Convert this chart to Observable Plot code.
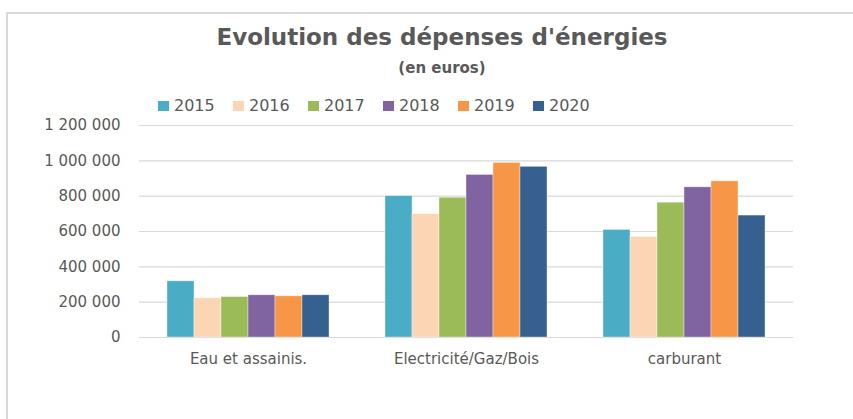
<!DOCTYPE html>
<html>
<head>
<meta charset="utf-8">
<script src="https://cdn.jsdelivr.net/npm/d3@7"></script>
<script src="https://cdn.jsdelivr.net/npm/@observablehq/plot@0.6"></script>
<style>
  html, body { margin: 0; padding: 0; background: #fff; }
  #frame { position: relative; width: 853px; height: 419px; overflow: hidden; font-family: "DejaVu Sans", sans-serif; color: #595959; }
  #border { position: absolute; left: 6px; top: 12px; width: 860px; height: 420px; border-left: 2px solid #d9d9d9; border-top: 2px solid #d9d9d9; box-sizing: border-box; }
  #title { position: absolute; left: 0; width: 884px; top: 24px; text-align: center; font-size: 23px; font-weight: bold; white-space: nowrap; }
  #subtitle { position: absolute; left: 0; width: 884px; top: 59px; text-align: center; font-size: 15px; font-weight: bold; }
  #legend { position: absolute; left: 158px; top: 96px; display: flex; font-size: 16px; }
  #legend .item { display: flex; align-items: center; width: 75px; }
  #legend .sw { width: 11px; height: 10px; margin-right: 5px; }
  #chart { position: absolute; left: 0; top: 115px; }
</style>
</head>
<body>
<div id="frame">
  <div id="border"></div>
  <div id="title">Evolution des dépenses d'énergies</div>
  <div id="subtitle">(en euros)</div>
  <div id="legend"></div>
  <div id="chart"></div>
</div>
<script>
const categories = ["Eau et assainis.", "Electricité/Gaz/Bois", "carburant"];
const years = ["2015", "2016", "2017", "2018", "2019", "2020"];
const v2015 = [318000, 800000, 609000];
const v2016 = [222000, 698000, 569000];
const v2017 = [229000, 791000, 763000];
const v2018 = [239000, 920000, 850000];
const v2019 = [233000, 988000, 884000];
const v2020 = [239000, 966000, 690000];
const yTicks = [0, 200000, 400000, 600000, 800000, 1000000, 1200000];
const colors = ["#4BACC6", "#FCD5B5", "#9BBB59", "#8064A2", "#F79646", "#35608F"];

const series = [v2015, v2016, v2017, v2018, v2019, v2020];
const data = [];
years.forEach((yr, i) => categories.forEach((c, j) => data.push({category: c, year: yr, value: series[i][j]})));

const fmt = d => d3.format(",")(d).replace(/,/g, " ");

const legend = document.getElementById("legend");
years.forEach((yr, i) => {
  const it = document.createElement("div");
  it.className = "item";
  it.innerHTML = `<span class="sw" style="background:${colors[i]}"></span><span>${yr}</span>`;
  legend.appendChild(it);
});

const chart = Plot.plot({
  width: 853,
  height: 304,
  marginLeft: 139,
  marginRight: 60,
  marginTop: 10,
  marginBottom: 82,
  style: {fontFamily: "DejaVu Sans, sans-serif", fontSize: "15px", color: "#595959", background: "transparent"},
  fx: {domain: categories, padding: 0, label: null},
  x: {domain: years, paddingInner: 0, paddingOuter: 0.98, axis: null},
  y: {domain: [0, 1200000], label: null},
  color: {domain: years, range: colors},
  marks: [
    Plot.ruleY(yTicks, {stroke: "#d9d9d9", strokeWidth: 1.2}),
    Plot.barY(data, {fx: "category", x: "year", y: "value", fill: "year", stroke: "#ffffff", strokeOpacity: 0.45, strokeWidth: 0.8}),
    Plot.axisY(yTicks, {tickSize: 0, tickPadding: 19, tickFormat: fmt, label: null, fill: "#595959", fontSize: 15}),
    Plot.axisFx({anchor: "bottom", tickSize: 0, tickPadding: 16, label: null, fill: "#595959", fontSize: 15})
  ]
});
document.getElementById("chart").appendChild(chart);
</script>
</body>
</html>
